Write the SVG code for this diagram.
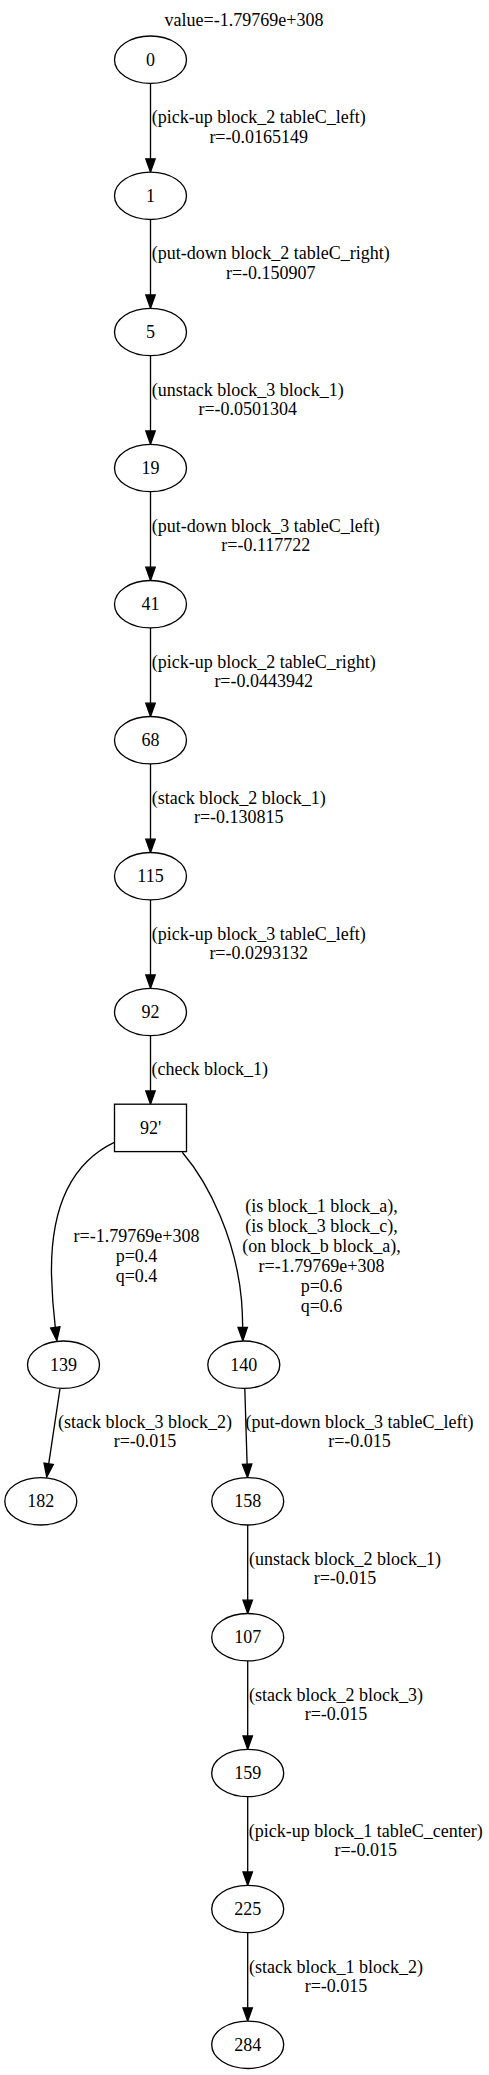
<svg xmlns="http://www.w3.org/2000/svg" width="489" height="2075" viewBox="0 0 489 2075">
<style>
text{font-family:"Liberation Serif","Times New Roman",serif;font-size:18px;fill:#000;text-anchor:middle}
.n{fill:#fff;stroke:#000;stroke-width:1.33}
.e{fill:none;stroke:#000;stroke-width:1.33;marker-end:url(#ah)}
</style>
<defs>
<marker id="ah" markerUnits="userSpaceOnUse" markerWidth="16" markerHeight="12" refX="0" refY="5" orient="auto" viewBox="0 0 16 10" overflow="visible">
<path d="M0,0.3 L13.3,5 L0,9.7 Z" fill="#000" stroke="#000" stroke-width="1.33"/>
</marker>
</defs>
<rect width="489" height="2075" fill="#fff"/>
<text x="244" y="26">value=-1.79769e+308</text>
<g id="connectors">
<path class="e" d="M150.5,83.4 V158.8"/>
<path class="e" d="M150.5,219.5 V295"/>
<path class="e" d="M150.5,355.7 V431"/>
<path class="e" d="M150.5,491.7 V567.2"/>
<path class="e" d="M150.5,627.9 V703.2"/>
<path class="e" d="M150.5,763.9 V839.2"/>
<path class="e" d="M150.5,899.9 V975"/>
<path class="e" d="M150.5,1035.7 V1090.9"/>
<path class="e" d="M114.3,1142.3 C67,1165 50.5,1215 51.5,1275 C52,1295 53.5,1312 55.3,1327.4"/>
<path class="e" d="M182.3,1152.3 C210,1185 236,1240 241.5,1300 C242.3,1310 242.6,1318 242.7,1327.4"/>
<path class="e" d="M60,1388.6 L48.7,1463.8"/>
<path class="e" d="M244.8,1388.5 L247.1,1464.2"/>
<path class="e" d="M247.7,1525 V1600.2"/>
<path class="e" d="M247.7,1660.9 V1736"/>
<path class="e" d="M247.7,1796.7 V1872"/>
<path class="e" d="M247.7,1932.7 V2007.8"/>
<text x="258.7" y="123.2">(pick-up block_2 tableC_left)<tspan x="258.7" dy="19.5">r=-0.0165149</tspan></text>
<text x="270.8" y="259.3">(put-down block_2 tableC_right)<tspan x="270.8" dy="19.5">r=-0.150907</tspan></text>
<text x="247.8" y="395.5">(unstack block_3 block_1)<tspan x="247.8" dy="19.5">r=-0.0501304</tspan></text>
<text x="265.8" y="531.5">(put-down block_3 tableC_left)<tspan x="265.8" dy="19.5">r=-0.117722</tspan></text>
<text x="263.7" y="667.7">(pick-up block_2 tableC_right)<tspan x="263.7" dy="19.5">r=-0.0443942</tspan></text>
<text x="238.8" y="803.7">(stack block_2 block_1)<tspan x="238.8" dy="19.5">r=-0.130815</tspan></text>
<text x="258.7" y="939.7">(pick-up block_3 tableC_left)<tspan x="258.7" dy="19.5">r=-0.0293132</tspan></text>
<text x="209.7" y="1074.5">(check block_1)</text>
<text x="136.5" y="1241.7">r=-1.79769e+308<tspan x="136.5" dy="20">p=0.4</tspan><tspan x="136.5" dy="20">q=0.4</tspan></text>
<text x="321.5" y="1212.2">(is block_1 block_a),<tspan x="321.5" dy="20">(is block_3 block_c),</tspan><tspan x="321.5" dy="20">(on block_b block_a),</tspan><tspan x="321.5" dy="20">r=-1.79769e+308</tspan><tspan x="321.5" dy="20">p=0.6</tspan><tspan x="321.5" dy="20">q=0.6</tspan></text>
<text x="145" y="1427.7">(stack block_3 block_2)<tspan x="145" dy="19.5">r=-0.015</tspan></text>
<text x="359.5" y="1427.7">(put-down block_3 tableC_left)<tspan x="359.5" dy="19.5">r=-0.015</tspan></text>
<text x="345" y="1564.8">(unstack block_2 block_1)<tspan x="345" dy="19.5">r=-0.015</tspan></text>
<text x="336" y="1700.7">(stack block_2 block_3)<tspan x="336" dy="19.5">r=-0.015</tspan></text>
<text x="365.8" y="1836.5">(pick-up block_1 tableC_center)<tspan x="365.8" dy="19.5">r=-0.015</tspan></text>
<text x="336" y="1972.5">(stack block_1 block_2)<tspan x="336" dy="19.5">r=-0.015</tspan></text>
</g>
<g id="n0"><ellipse class="n" cx="150.5" cy="59.7" rx="36" ry="23.7"/><text x="150.5" y="65.7">0</text></g>
<g id="n1"><ellipse class="n" cx="150.5" cy="195.8" rx="36" ry="23.7"/><text x="150.5" y="201.8">1</text></g>
<g id="n5"><ellipse class="n" cx="150.5" cy="332" rx="36" ry="23.7"/><text x="150.5" y="338">5</text></g>
<g id="n19"><ellipse class="n" cx="150.5" cy="468" rx="36" ry="23.7"/><text x="150.5" y="474">19</text></g>
<g id="n41"><ellipse class="n" cx="150.5" cy="604.2" rx="36" ry="23.7"/><text x="150.5" y="610.2">41</text></g>
<g id="n68"><ellipse class="n" cx="150.5" cy="740.2" rx="36" ry="23.7"/><text x="150.5" y="746.2">68</text></g>
<g id="n115"><ellipse class="n" cx="150.5" cy="876.2" rx="36" ry="23.7"/><text x="150.5" y="882.2">115</text></g>
<g id="n92"><ellipse class="n" cx="150.5" cy="1012" rx="36" ry="23.7"/><text x="150.5" y="1018">92</text></g>
<g id="n92p"><rect class="n" x="114.5" y="1104.2" width="72" height="47.4"/><text x="150.5" y="1133.9">92'</text></g>
<g id="n139"><ellipse class="n" cx="63.5" cy="1364.7" rx="36" ry="23.7"/><text x="63.5" y="1370.7">139</text></g>
<g id="n140"><ellipse class="n" cx="243.8" cy="1364.7" rx="36" ry="23.7"/><text x="243.8" y="1370.7">140</text></g>
<g id="n182"><ellipse class="n" cx="40.8" cy="1501.3" rx="36" ry="23.7"/><text x="40.8" y="1507.3">182</text></g>
<g id="n158"><ellipse class="n" cx="247.7" cy="1501.3" rx="36" ry="23.7"/><text x="247.7" y="1507.3">158</text></g>
<g id="n107"><ellipse class="n" cx="247.7" cy="1637.2" rx="36" ry="23.7"/><text x="247.7" y="1643.2">107</text></g>
<g id="n159"><ellipse class="n" cx="247.7" cy="1773" rx="36" ry="23.7"/><text x="247.7" y="1779">159</text></g>
<g id="n225"><ellipse class="n" cx="247.7" cy="1909" rx="36" ry="23.7"/><text x="247.7" y="1915">225</text></g>
<g id="n284"><ellipse class="n" cx="247.7" cy="2044.8" rx="36" ry="23.7"/><text x="247.7" y="2050.8">284</text></g>
</svg>
